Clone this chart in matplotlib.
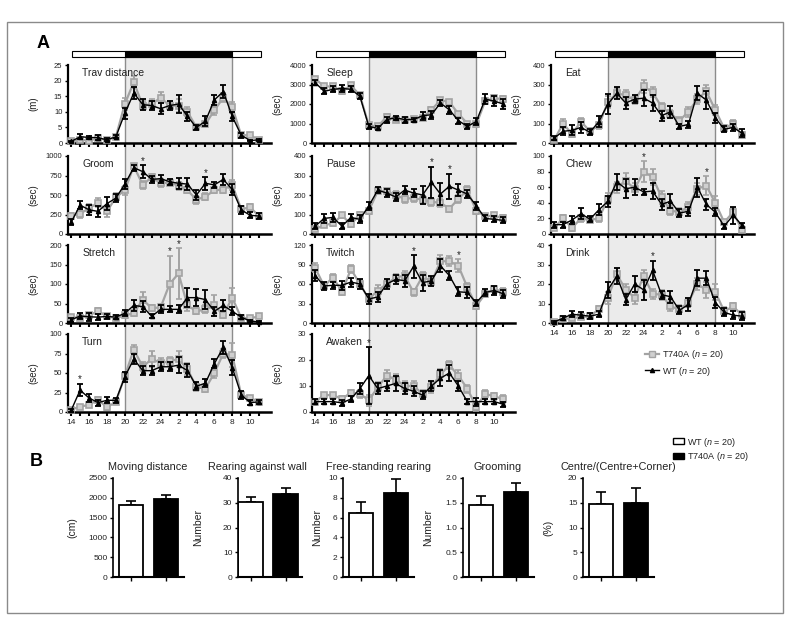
import matplotlib
matplotlib.use("Agg")
import matplotlib.pyplot as plt
from matplotlib.patches import Rectangle
from matplotlib.lines import Line2D
from matplotlib.transforms import blended_transform_factory

plt.rcParams["font.family"] = ["Liberation Sans", "DejaVu Sans"]
plt.rcParams["mathtext.fontset"] = "custom"
plt.rcParams["mathtext.it"] = "Liberation Sans:italic"
plt.rcParams["mathtext.rm"] = "Liberation Sans"

W, H = 790, 621

# ---------------- data: 24 h time course (14:00 -> 11:00, 22 points) ----------------
hour_labels = ["14", "16", "18", "20", "22", "24", "2", "4", "6", "8", "10"]
n_points = 22
dark_start, dark_end = 6, 18  # index of 20:00 and 8:00

trav_wt = [0.5, 2.0, 1.8, 1.7, 1.0, 2.0, 9.5, 16.0, 12.3, 12.0, 11.0, 12.0, 12.5, 8.5, 5.0, 7.0, 13.8, 16.5, 8.5, 2.5, 0.8, 1.0]
trav_wt_err = [0.3, 0.8, 0.5, 0.8, 0.5, 0.5, 1.8, 2.0, 1.8, 1.5, 1.8, 1.5, 2.8, 1.5, 0.8, 1.5, 1.5, 2.0, 1.5, 0.8, 0.3, 0.4]
trav_mut = [0.5, 1.0, 0.8, 1.5, 1.0, 2.0, 12.5, 19.5, 12.0, 12.5, 14.5, 12.0, 12.0, 10.0, 5.0, 6.0, 10.5, 14.5, 11.5, 2.5, 2.5, 1.0]
trav_mut_err = [0.3, 0.5, 0.4, 0.6, 0.4, 0.5, 2.0, 2.0, 1.5, 1.5, 1.8, 1.5, 2.0, 1.5, 0.8, 1.0, 1.5, 1.5, 1.8, 0.7, 0.6, 0.4]

groom_wt = [150, 370, 310, 290, 390, 460, 640, 850, 800, 700, 710, 670, 650, 640, 500, 650, 630, 700, 570, 310, 240, 230]
groom_wt_err = [40, 50, 60, 70, 80, 50, 60, 40, 80, 50, 50, 40, 70, 80, 60, 80, 40, 70, 70, 50, 40, 40]
groom_mut = [230, 260, 330, 400, 290, 470, 560, 870, 630, 730, 650, 660, 620, 560, 440, 480, 560, 570, 630, 320, 340, 230]
groom_mut_err = [40, 50, 50, 60, 70, 50, 60, 30, 50, 40, 50, 40, 50, 40, 50, 40, 40, 40, 60, 40, 40, 40]

stretch_wt = [8, 18, 16, 15, 17, 15, 25, 45, 42, 17, 35, 35, 35, 65, 65, 60, 30, 45, 30, 15, 5, 3]
stretch_wt_err = [6, 8, 10, 8, 6, 5, 8, 15, 15, 5, 10, 8, 10, 25, 22, 25, 12, 15, 10, 6, 3, 3]
stretch_mut = [15, 13, 20, 30, 18, 12, 20, 25, 60, 38, 40, 100, 127, 45, 30, 35, 45, 20, 65, 13, 12, 17]
stretch_mut_err = [6, 5, 6, 8, 6, 4, 6, 8, 20, 8, 10, 72, 65, 15, 8, 10, 28, 6, 25, 5, 4, 5]

turn_wt = [2, 28, 18, 12, 15, 15, 45, 68, 53, 53, 58, 58, 60, 53, 33, 37, 62, 83, 57, 22, 12, 13]
turn_wt_err = [2, 8, 5, 4, 4, 3, 6, 6, 6, 6, 6, 6, 10, 8, 5, 5, 6, 8, 10, 5, 3, 3]
turn_mut = [3, 7, 9, 16, 6, 13, 46, 80, 58, 68, 63, 65, 68, 55, 32, 30, 50, 75, 73, 22, 18, 13]
turn_mut_err = [2, 2, 2, 3, 3, 3, 5, 6, 6, 10, 6, 6, 10, 8, 5, 4, 6, 6, 15, 4, 3, 3]

sleep_wt = [3100, 2650, 2750, 2800, 2750, 2400, 850, 750, 1200, 1300, 1200, 1200, 1400, 1450, 2050, 1700, 1150, 850, 1100, 2250, 2150, 2000]
sleep_wt_err = [150, 150, 150, 200, 150, 150, 150, 100, 150, 100, 150, 100, 200, 200, 150, 200, 150, 150, 200, 250, 250, 250]
sleep_mut = [3300, 2900, 2900, 2650, 2950, 2450, 900, 850, 1350, 1200, 1200, 1250, 1300, 1700, 2200, 2100, 1500, 1000, 950, 2150, 2300, 2250]
sleep_mut_err = [100, 100, 100, 150, 100, 100, 100, 100, 150, 100, 100, 100, 100, 150, 100, 100, 100, 100, 150, 150, 150, 150]

pause_wt = [40, 80, 85, 40, 85, 75, 145, 225, 210, 190, 225, 210, 200, 265, 205, 245, 225, 205, 145, 80, 75, 70]
pause_wt_err = [15, 25, 25, 15, 20, 20, 20, 15, 20, 20, 20, 20, 45, 80, 55, 65, 30, 20, 20, 15, 15, 15]
pause_mut = [25, 45, 55, 95, 50, 100, 120, 220, 220, 200, 180, 185, 175, 165, 160, 130, 180, 225, 120, 90, 95, 80]
pause_mut_err = [10, 10, 15, 15, 15, 15, 15, 15, 15, 20, 20, 20, 20, 20, 20, 15, 20, 20, 15, 15, 15, 15]

twitch_wt = [73, 57, 58, 58, 63, 60, 37, 40, 60, 67, 65, 87, 62, 65, 88, 73, 48, 47, 31, 47, 50, 45]
twitch_wt_err = [8, 6, 5, 7, 7, 7, 7, 8, 7, 7, 9, 17, 12, 8, 10, 7, 7, 8, 5, 6, 7, 6]
twitch_mut = [85, 57, 70, 48, 83, 60, 37, 50, 60, 70, 73, 47, 72, 63, 95, 95, 88, 55, 26, 45, 52, 48]
twitch_mut_err = [7, 5, 6, 5, 6, 6, 5, 8, 6, 6, 7, 5, 7, 6, 10, 8, 10, 6, 5, 5, 5, 6]

awaken_wt = [4, 4, 4, 3.5, 5, 9, 14, 9, 10, 11, 9, 8, 6.5, 10, 13, 15, 10, 4, 4, 4, 4, 3]
awaken_wt_err = [1, 1, 1, 1, 1, 2, 11, 2, 2, 3, 2, 2, 1.5, 2, 3, 3, 2, 1, 1.5, 1, 1, 1]
awaken_mut = [4, 6.5, 6.5, 5, 7.5, 7, 4.5, 9.5, 14, 12.5, 10, 10, 7, 9.5, 14.5, 18, 14, 9, 2, 7, 6, 5]
awaken_mut_err = [1, 1, 1, 1, 1, 1.5, 2, 2, 2, 2, 2, 2, 1.5, 2, 2, 1.5, 2, 1.5, 1.5, 1.5, 1.5, 1.5]

eat_wt = [25, 60, 65, 80, 55, 110, 200, 255, 205, 225, 230, 205, 140, 160, 85, 95, 255, 220, 130, 70, 80, 50]
eat_wt_err = [10, 20, 25, 30, 15, 30, 50, 30, 30, 20, 40, 40, 25, 30, 15, 20, 35, 45, 25, 15, 20, 20]
eat_mut = [15, 100, 45, 110, 60, 90, 210, 255, 245, 220, 290, 260, 185, 150, 115, 160, 225, 265, 170, 75, 100, 40]
eat_mut_err = [10, 25, 15, 20, 15, 20, 30, 25, 25, 20, 35, 25, 20, 20, 20, 25, 25, 35, 25, 15, 20, 15]

chew_wt = [12, 12, 18, 26, 19, 31, 42, 67, 58, 60, 54, 55, 38, 42, 27, 29, 60, 38, 28, 10, 24, 11]
chew_wt_err = [4, 4, 5, 7, 4, 7, 7, 10, 12, 10, 4, 10, 7, 9, 5, 6, 12, 7, 5, 3, 11, 3]
chew_mut = [8, 20, 8, 20, 18, 20, 45, 60, 68, 58, 80, 73, 47, 30, 28, 35, 58, 62, 40, 15, 28, 5]
chew_mut_err = [3, 4, 4, 5, 4, 4, 7, 7, 10, 8, 13, 10, 8, 6, 5, 6, 8, 12, 9, 3, 5, 3]

drink_wt = [0.5, 2.5, 4.5, 4, 3.5, 4.5, 17, 24, 12, 20, 17, 27, 14.5, 13.5, 6.5, 9.5, 23, 23, 10.5, 5.5, 4, 3.5]
drink_wt_err = [0.5, 1, 1.5, 1.5, 1.5, 1.5, 4, 4, 3, 4, 5, 5, 2, 3, 2, 3.5, 4, 3.5, 3, 2, 2, 2]
drink_mut = [0.5, 2, 2.5, 3, 3.5, 7, 13, 25, 17, 13, 24, 15, 14.5, 8.5, 7, 10.5, 20, 17, 16, 6, 8.5, 4]
drink_mut_err = [0.5, 0.8, 1, 1, 1, 1.5, 3, 3, 3, 3, 3, 2.5, 2.5, 2.5, 2, 2.5, 3, 4, 4, 2, 2, 2]

# (title, column, row, ylabel, ymax, ystep, wt, wt_err, mut, mut_err, starred indices)
panels = [
    ("Trav distance", 0, 0, "(m)", 25, 5, trav_wt, trav_wt_err, trav_mut, trav_mut_err, []),
    ("Groom", 0, 1, "(sec)", 1000, 250, groom_wt, groom_wt_err, groom_mut, groom_mut_err, [8, 15]),
    ("Stretch", 0, 2, "(sec)", 200, 50, stretch_wt, stretch_wt_err, stretch_mut, stretch_mut_err, [11, 12]),
    ("Turn", 0, 3, "(sec)", 100, 25, turn_wt, turn_wt_err, turn_mut, turn_mut_err, [1]),
    ("Sleep", 1, 0, "(sec)", 4000, 1000, sleep_wt, sleep_wt_err, sleep_mut, sleep_mut_err, []),
    ("Pause", 1, 1, "(sec)", 400, 100, pause_wt, pause_wt_err, pause_mut, pause_mut_err, [13, 15]),
    ("Twitch", 1, 2, "(sec)", 120, 30, twitch_wt, twitch_wt_err, twitch_mut, twitch_mut_err, [11, 16]),
    ("Awaken", 1, 3, "(sec)", 30, 10, awaken_wt, awaken_wt_err, awaken_mut, awaken_mut_err, [6]),
    ("Eat", 2, 0, "(sec)", 400, 100, eat_wt, eat_wt_err, eat_mut, eat_mut_err, []),
    ("Chew", 2, 1, "(sec)", 100, 20, chew_wt, chew_wt_err, chew_mut, chew_mut_err, [10, 17]),
    ("Drink", 2, 2, "(sec)", 40, 10, drink_wt, drink_wt_err, drink_mut, drink_mut_err, [11]),
]

# ---------------- data: open field (panel B) ----------------
bar_titles = ["Moving distance", "Rearing against wall", "Free-standing rearing", "Grooming", "Centre/(Centre+Corner)"]
bar_ylabels = ["(cm)", "Number", "Number", "Number", "(%)"]
bar_wt = [1830, 30.3, 6.5, 1.45, 14.8]
bar_wt_err = [90, 2.0, 1.1, 0.18, 2.3]
bar_mut = [1980, 33.7, 8.5, 1.71, 14.9]
bar_mut_err = [100, 2.3, 1.4, 0.19, 3.0]
bar_yticks = [
    [0, 500, 1000, 1500, 2000, 2500],
    [0, 10, 20, 30, 40],
    [0, 2, 4, 6, 8, 10],
    [0, 0.5, 1.0, 1.5, 2.0],
    [0, 5, 10, 15, 20],
]
bar_yticklabels = [
    None, None, None, ["0", "0.5", "1.0", "1.5", "2.0"], None,
]

GRAY = "#a3a3a3"
TXT = "#222222"


def px_axes(fig, left, top, width, height):
    return fig.add_axes([left / W, 1 - (top + height) / H, width / W, height / H])


fig = plt.figure(figsize=(W / 100, H / 100), dpi=100)

# outer frame
fig.add_artist(Rectangle((7 / W, 1 - 613 / H), 776 / W, 591 / H, transform=fig.transFigure,
                         fill=False, edgecolor="#8a8a8a", linewidth=1.0, zorder=-5))

fig.text(37 / W, 1 - 43 / H, "A", fontsize=13, fontweight="bold", va="center", ha="left")
fig.text(30 / W, 1 - 461 / H, "B", fontsize=13, fontweight="bold", va="center", ha="left")

col_left = [68, 312, 551]
row_top = [65, 156, 245, 334]
ax_w, ax_h = 203, 78
xlim = (-0.35, 22.33)

axes_grid = {}
for title, col, row, ylab, ymax, ystep, wt, wt_err, mut, mut_err, stars in panels:
    ax = px_axes(fig, col_left[col], row_top[row], ax_w, ax_h)
    axes_grid[(col, row)] = ax
    ax.set_facecolor("none")
    x = list(range(n_points))
    ax.errorbar(x, mut, yerr=mut_err, color=GRAY, marker="s", ms=3.8, mfc="#cfcfcf", mec=GRAY,
                mew=1.2, lw=1.6, elinewidth=1.4, capsize=2.2, capthick=1.4, zorder=3, clip_on=False)
    ax.errorbar(x, wt, yerr=wt_err, color="black", marker="^", ms=3.0, lw=1.0,
                elinewidth=1.3, capsize=2.2, capthick=1.3, zorder=4, clip_on=False)
    for i in stars:
        top = max(wt[i] + wt_err[i], mut[i] + mut_err[i])
        ax.annotate("*", (i, top), xytext=(0, 1), textcoords="offset points", ha="center",
                    va="baseline", fontsize=7, color=TXT, annotation_clip=False)
    ax.set_xlim(*xlim)
    ax.set_ylim(0, ymax)
    ax.set_yticks(list(range(0, ymax + 1, ystep)))
    ax.set_xticks(x)
    ax.set_xticklabels([hour_labels[i // 2] if i % 2 == 0 else "" for i in x])
    ax.text(0.07, 0.96, title, transform=ax.transAxes, ha="left", va="top", fontsize=7.5, color=TXT)
    ax.set_ylabel(ylab, fontsize=7, color=TXT)
    ax.yaxis.set_label_coords(-0.145, 0.5)
    for s in ("top", "right"):
        ax.spines[s].set_visible(False)
    ax.spines["left"].set_linewidth(1.6)
    ax.spines["bottom"].set_linewidth(1.8)
    ax.tick_params(axis="y", direction="out", length=2.5, width=1.0, labelsize=5.5, labelcolor=TXT, pad=1.5)
    ax.tick_params(axis="x", direction="out", length=3.0, width=1.5, labelsize=6, labelcolor=TXT, pad=2)

# hide x tick labels except on the bottom row of every column
bottom_row = {0: 3, 1: 3, 2: 2}
for (col, row), ax in axes_grid.items():
    if row != bottom_row[col]:
        ax.tick_params(axis="x", labelbottom=False)

# dark-phase shading, border lines and light/dark bar
bar_y0, bar_y1 = 1 - 57 / H, 1 - 51 / H
for col in range(3):
    ax_top = axes_grid[(col, 0)]
    ax_bot = axes_grid[(col, bottom_row[col])]
    tr = blended_transform_factory(ax_top.transData, fig.transFigure)
    y_bot = ax_bot.get_position().y0
    fig.add_artist(Rectangle((dark_start, y_bot), dark_end - dark_start, bar_y0 - y_bot, transform=tr,
                             facecolor="#ebebeb", edgecolor="none", zorder=-2))
    for xv in (dark_start, dark_end):
        fig.add_artist(Line2D([xv, xv], [y_bot, bar_y0], transform=tr, color="#8c8c8c", lw=1.0, zorder=-1))
    fig.add_artist(Rectangle((0.1, bar_y0), 21.1, bar_y1 - bar_y0, transform=tr, facecolor="white",
                             edgecolor="black", lw=0.8, zorder=1))
    fig.add_artist(Rectangle((dark_start, bar_y0), dark_end - dark_start, bar_y1 - bar_y0, transform=tr,
                             facecolor="black", edgecolor="black", lw=0.8, zorder=1))

# time-course legend
tc_handles = [
    Line2D([], [], color=GRAY, marker="s", ms=3.8, mfc="#cfcfcf", mec=GRAY, lw=1.6),
    Line2D([], [], color="black", marker="^", ms=3.0, lw=1.0),
]
fig.legend(tc_handles, ["T740A ($n$ = 20)", "WT ($n$ = 20)"], loc="center left",
           bbox_to_anchor=(640 / W, 1 - 363 / H), frameon=False, fontsize=6.5, handlelength=1.6,
           handletextpad=0.3, labelspacing=0.35, borderpad=0, labelcolor=TXT)

# ---------------- panel B ----------------
b_left = [113, 238, 343, 463, 583]
b_width = [71, 64, 71, 71, 71]
b_xmin = [-0.52, -0.36, -0.52, -0.52, -0.52]
b_label_px = [36, 35, 21, 30, 30]      # distance of the y label from the spine
b_title_px = [35, 19, 35, 35, 35]      # title centre measured from the spine
for k in range(5):
    ax = px_axes(fig, b_left[k], 478, b_width[k], 99)
    ax.set_facecolor("none")
    ax.bar([0, 1], [bar_wt[k], bar_mut[k]], width=0.7, color=["white", "black"], edgecolor="black",
           linewidth=1.3, zorder=2)
    ax.errorbar([0, 1], [bar_wt[k], bar_mut[k]], yerr=[[0, 0], [bar_wt_err[k], bar_mut_err[k]]],
                fmt="none", ecolor="black", elinewidth=1.2, capsize=3.5, capthick=1.2, zorder=1)
    ax.set_xlim(b_xmin[k], b_xmin[k] + b_width[k] / 35.0)
    ax.set_ylim(0, bar_yticks[k][-1])
    ax.set_yticks(bar_yticks[k])
    if bar_yticklabels[k] is not None:
        ax.set_yticklabels(bar_yticklabels[k])
    ax.set_xticks([0, 1])
    ax.set_xticklabels(["", ""])
    ax.set_title(bar_titles[k], fontsize=7.8, color=TXT, pad=6, x=b_title_px[k] / b_width[k])
    ax.set_ylabel(bar_ylabels[k], fontsize=7.5, color=TXT)
    ax.yaxis.set_label_coords(-b_label_px[k] / b_width[k], 0.5)
    for s in ("top", "right"):
        ax.spines[s].set_visible(False)
    ax.spines["left"].set_linewidth(1.2)
    ax.spines["bottom"].set_linewidth(1.5)
    ax.tick_params(axis="y", direction="out", length=2.5, width=1.0, labelsize=6, labelcolor=TXT, pad=1.5)
    ax.tick_params(axis="x", direction="out", length=3, width=1.0)

b_handles = [
    Rectangle((0, 0), 1, 1, facecolor="white", edgecolor="black", lw=1.0),
    Rectangle((0, 0), 1, 1, facecolor="black", edgecolor="black", lw=1.0),
]
fig.legend(b_handles, ["WT ($n$ = 20)", "T740A ($n$ = 20)"], loc="upper left",
           bbox_to_anchor=(668 / W, 1 - 431 / H), frameon=False, fontsize=6.5, handlelength=1.3,
           handleheight=0.6, handletextpad=0.3, labelspacing=0.2, borderpad=0, labelcolor=TXT)

fig.savefig("out.png", dpi=100)
